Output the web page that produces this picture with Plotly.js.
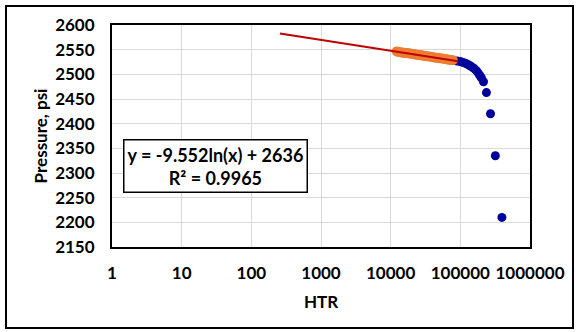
<!DOCTYPE html>
<html>
<head>
<meta charset="utf-8">
<script src="https://cdn.plot.ly/plotly-3.0.1.min.js"></script>
<style>
  html, body { margin: 0; padding: 0; background: #ffffff; }
  #wrap { position: relative; width: 577px; height: 332px; }
  #chart { position: absolute; left: 0; top: 0; width: 577px; height: 332px; }
  #frame { position: absolute; left: 5px; top: 5px; width: 565px; height: 320px;
           border: 2px solid #000; pointer-events: none; }
</style>
</head>
<body>
<div id="wrap">
  <div id="chart"></div>
  <div id="frame"></div>
</div>
<script>
// Full pressure record vs Horner time ratio
const allHTR = [12500, 15000, 18000, 22000, 27000, 33000, 40000, 48000, 57000, 67000,
                78000, 90000, 100000, 110000, 120000, 130000, 140000, 150000, 160000,
                170000, 180000, 190000, 200000, 215000, 237000, 271000, 318000, 395000];
const allP   = [2546, 2544, 2542.5, 2540.5, 2538.5, 2536.5, 2534.5, 2533, 2531.5, 2530,
                2528, 2527, 2526, 2524, 2522, 2519.5, 2517, 2514, 2511, 2507.5,
                2503, 2498, 2493, 2485, 2463, 2420, 2335, 2210];

// Straight-line (semi-log) section used for the fit
const fitHTR = [12200, 13000, 13800, 14700, 15600, 16600, 17700, 18800, 20000, 21300,
                22600, 24100, 25600, 27200, 29000, 30800, 32800, 34900, 37100, 39500,
                42000, 44700, 47500, 50500, 53800, 57200, 60800, 64700, 68800, 73200, 78000];
const fitP   = [2546.5, 2545.5, 2545, 2544, 2544, 2543, 2542.5, 2542, 2541.5, 2541,
                2540, 2539.5, 2539, 2538.5, 2538, 2537, 2536.5, 2536, 2535.5, 2535,
                2534, 2533.5, 2533, 2532.5, 2532, 2531.5, 2531, 2530, 2529.5, 2529, 2528.5];

// Log trendline: y = slope*ln(x) + intercept
const slope = -9.552;
const intercept = 2636;
const r2 = 0.9965;
const trendHTR = [257, 93000];
const trendP = trendHTR.map(x => slope * Math.log(x) + intercept);

const xTicks = [1, 10, 100, 1000, 10000, 100000, 1000000];
const xTickText = ['1', '10', '100', '1000', '10000', '100000', '1000000'];

const fontFamily = 'Lato, "Open Sans", sans-serif';
const boldFont = (size) => ({ family: fontFamily, size: size, color: '#000', weight: 700 });

const traces = [
  { x: allHTR, y: allP, type: 'scatter', mode: 'markers',
    marker: { color: '#00009C', size: 9 }, hoverinfo: 'skip' },
  { x: fitHTR, y: fitP, type: 'scatter', mode: 'markers',
    marker: { color: '#ED7D31', size: 10 }, hoverinfo: 'skip' },
  { x: trendHTR, y: trendP, type: 'scatter', mode: 'lines',
    line: { color: '#C00000', width: 2 }, hoverinfo: 'skip' }
];

const layout = {
  width: 577, height: 332,
  margin: { l: 112, r: 47, t: 25, b: 85 },
  paper_bgcolor: '#ffffff', plot_bgcolor: '#ffffff',
  showlegend: false,
  font: boldFont(17),
  xaxis: {
    type: 'log', range: [0, 6],
    tickvals: xTicks, ticktext: xTickText,
    showgrid: true, gridcolor: '#D9D9D9', gridwidth: 1,
    showline: true, linecolor: '#000', linewidth: 2, mirror: true,
    ticks: '', ticklen: 0, ticklabelstandoff: 10,
    tickfont: boldFont(17),
    title: { text: 'HTR', font: boldFont(17), standoff: 14 },
    zeroline: false
  },
  yaxis: {
    range: [2150, 2600], dtick: 50, tick0: 2150,
    showgrid: true, gridcolor: '#D9D9D9', gridwidth: 1,
    showline: true, linecolor: '#000', linewidth: 2, mirror: true,
    ticks: '', ticklen: 0, ticklabelstandoff: 12,
    tickfont: boldFont(17),
    title: { text: 'Pressure, psi', font: boldFont(17), standoff: 3 },
    zeroline: false
  },
  annotations: [{
    xref: 'paper', yref: 'paper', x: 0.2476, y: 0.367,
    xanchor: 'center', yanchor: 'middle',
    text: 'y = ' + slope + 'ln(x) + ' + intercept + '<br>R² = ' + r2,
    showarrow: false, align: 'center',
    font: boldFont(18),
    bgcolor: '#ffffff', bordercolor: '#000', borderwidth: 1.5, borderpad: 3
  }]
};

Plotly.newPlot('chart', traces, layout, { displayModeBar: false, staticPlot: true });
</script>
</body>
</html>
